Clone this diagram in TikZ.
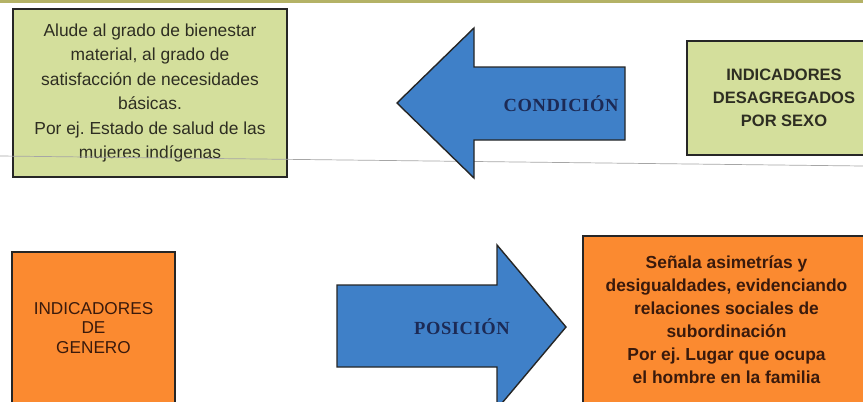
\documentclass[tikz,border=0pt]{standalone}
\usepackage{fontspec}
\setmainfont{Liberation Sans}
\newfontfamily\arrowfont{Liberation Serif}
\frenchspacing
\definecolor{boxgreen}{HTML}{D4DF9C}
\definecolor{boxorange}{HTML}{FB8A30}
\definecolor{arrowblue}{HTML}{3F80C8}
\definecolor{navytext}{HTML}{1C2A55}
\definecolor{olivebar}{HTML}{B4B266}
\definecolor{greentext}{HTML}{2E2E22}
\definecolor{orangetext}{HTML}{3A1A0C}
\begin{document}
\begin{tikzpicture}[x=1pt,y=-1pt,
  gbox/.style={draw=black!85,line width=2pt,fill=boxgreen,inner sep=0pt,align=center,text=greentext},
  obox/.style={draw=black!85,line width=2pt,fill=boxorange,inner sep=0pt,align=center,text=orangetext},
  bigarrow/.style={draw=black!85,line width=1.4pt,fill=arrowblue,line join=miter},
  arrowlabel/.style={text=navytext,font=\arrowfont\bfseries\fontsize{18.5}{21}\selectfont}]
\useasboundingbox (0,0) rectangle (863,402);
\clip (0,0) rectangle (863,402);
\fill[white] (0,0) rectangle (863,402);
\fill[olivebar] (0,0) rectangle (863,3);
% top-left box
\node[gbox,minimum width=274pt,minimum height=168pt,font=\fontsize{17.4}{24.4}\selectfont] (cond) at (150,93)
  {Alude al grado de bienestar\\material, al grado de\\satisfacción de necesidades\\básicas.\\Por ej. Estado de salud de las\\mujeres indígenas};
% top-right box
\node[gbox,minimum width=194pt,minimum height=114pt,font=\bfseries\fontsize{16.5}{23}\selectfont] (ind) at (784,98)
  {INDICADORES\\DESAGREGADOS\\POR SEXO};
% thin rule
\draw[gray!70,line width=0.7pt] (0,156) -- (863,166);
% left arrow
\draw[bigarrow] (397,103) -- (474,28) -- (474,67) -- (625,67) -- (625,140) -- (474,140) -- (474,178) -- cycle;
\node[arrowlabel] (lbl1) at (561,104) {C\kern0.6pt O\kern0.6pt N\kern0.6pt D\kern0.6pt I\kern0.6pt C\kern0.6pt I\kern0.6pt Ó\kern0.6pt N};
% bottom-left box
\node[obox,minimum width=163pt,minimum height=152pt,font=\fontsize{17.2}{19.5}\selectfont] (gen) at (93.5,328)
  {INDICADORES\\DE\\GENERO};
% right arrow
\draw[bigarrow] (337,285) -- (497,285) -- (497,245) -- (566,327) -- (497,409) -- (497,367) -- (337,367) -- cycle;
\node[arrowlabel] (lbl2) at (462,327) {P\kern0.6pt O\kern0.6pt S\kern0.6pt I\kern0.6pt C\kern0.6pt I\kern0.6pt Ó\kern0.6pt N};
% bottom-right box
\node[obox,minimum width=287pt,minimum height=168pt,font=\bfseries\fontsize{17.4}{23}\selectfont] (pos) at (726.5,320)
  {Señala asimetrías y\\desigualdades, evidenciando\\relaciones sociales de\\subordinación\\Por ej. Lugar que ocupa\\el hombre en la familia};
\end{tikzpicture}
\end{document}
